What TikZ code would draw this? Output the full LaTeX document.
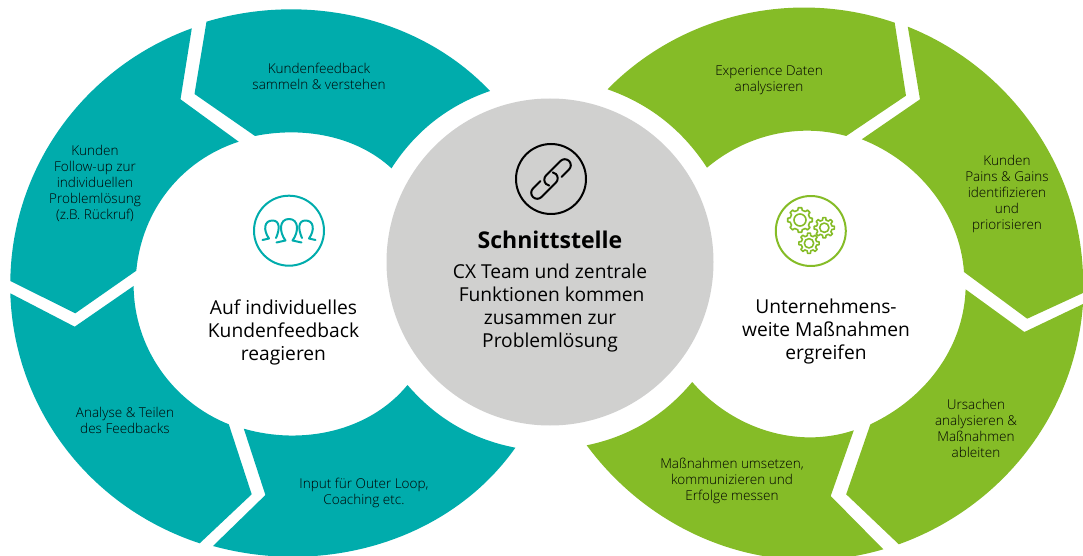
\documentclass[tikz,border=0pt]{standalone}
\usepackage{fontspec}
\setmainfont{Open Sans}
\newfontfamily\lightfont{Open Sans Light}
\definecolor{ringteal}{HTML}{00ACAC}
\definecolor{ringgreen}{HTML}{85BC27}
\definecolor{hubgrey}{HTML}{D0D0CF}
\tikzset{every picture/.style={line width=0.75pt}}
\tikzset{
  smalltext/.style={inner sep=0.75pt,align=center,font=\lightfont\fontsize{10.15}{12}\selectfont},
  bigtext/.style={inner sep=0.75pt,align=center,font=\fontsize{14.4}{17.25}\selectfont},
  iconline/.style={line width=1.5pt,line cap=round,line join=round},
  gearline/.style={line width=1.2pt,line join=round,draw=ringgreen}
}
\newcommand{\gearcog}[3]{%
  \draw[gearline] (#1,#2) circle (#3*0.6);
  \begin{scope}[shift={(#1,#2)}]
  \draw[gearline] (-13:#3) \foreach \a in {0,45,...,315} { -- (\a-13:#3) -- (\a-8:#3+2.4) -- (\a+8:#3+2.4) -- (\a+13:#3) } -- cycle ;
  \end{scope}
}

\begin{document}
\begin{tikzpicture}[x=0.75pt,y=0.75pt,yscale=-1]
\useasboundingbox (0,0) rectangle (1083,556);
\clip (0,0) rectangle (1083,556);

%Shape: Segment top left ring
\fill [ringteal] (206.5,21.7) .. controls (305,-8) and (419,16) .. (490,91) .. controls (448.3,105.3) and (415.4,131) .. (391.5,168.3) .. controls (355.7,135.4) and (302.6,126.4) .. (255,136) -- (194.5,94) -- cycle ;
%Shape: Segment left upper
\fill [ringteal] (10.3,281) .. controls (11.7,167) and (84.6,67.3) .. (191.8,28.3) -- (180.5,99.3) -- (238.7,141.7) .. controls (181.1,160.4) and (141.9,210.3) .. (136.3,270.7) -- (75.3,313.3) -- cycle ;
%Shape: Segment left lower
\fill [ringteal] (10.3,293.3) -- (74.7,326.7) -- (133.6,286) .. controls (134.2,347.2) and (172,401.5) .. (228.8,424.3) -- (251.7,494.3) -- (199.7,543.3) .. controls (90.1,507.3) and (13.9,408.7) .. (10.3,293.3) -- cycle ;
%Shape: Segment bottom left ring
\fill [ringteal] (243.8,428.7) -- (265.4,495) -- (213,546) .. controls (324,576.6) and (448.9,541.5) .. (515.4,447.7) .. controls (472.2,439.4) and (436.3,418.5) .. (407.5,385) .. controls (369,431.8) and (302,445.4) .. (243.8,428.7) -- cycle ;

%Shape: Segment top right ring
\fill [ringgreen] (607.5,89.3) .. controls (681.8,13.7) and (794.4,-11.9) .. (894.7,22.7) -- (906,95.7) -- (846.2,136) .. controls (797.8,122.5) and (745.4,135.3) .. (707,167.7) .. controls (682.7,130.2) and (649.6,104) .. (607.5,89.3) -- cycle ;
%Shape: Segment right upper
\fill [ringgreen] (907.8,26.7) .. controls (1015.5,69.7) and (1087,177) .. (1083,293) -- (1027.2,318.7) -- (964,272) .. controls (959.7,212.2) and (917.6,161.3) .. (861.8,139.3) -- (920,99.3) -- cycle ;
%Shape: Segment right lower
\fill [ringgreen] (1083,304) .. controls (1075,414) and (1002.3,507) .. (898.8,544.3) -- (846.2,494.3) -- (870.4,424.3) .. controls (924.4,399) and (963.5,349) .. (965.6,289.3) -- (1024.4,332) -- cycle ;
%Shape: Segment bottom right ring
\fill [ringgreen] (586.7,445.3) .. controls (655.4,538.2) and (772.5,581.9) .. (883.3,549.3) -- (830.7,496) -- (853.8,430.3) .. controls (795.9,449.6) and (732.2,428) .. (692.2,382) .. controls (664.3,415.5) and (629.2,436.6) .. (586.7,445.3) -- cycle ;

%Shape: Circle hub
\fill [hubgrey] (550,262) circle (163.5) ;

%Shape: Circle people icon
\draw [ringteal,iconline] (289,230.7) circle (35) ;
\draw [ringteal,iconline] (276.5,242.5) -- (285.5,240.5) .. controls (279,232) and (279,219) .. (289,219) .. controls (299,219) and (299,232) .. (292.5,240.5) -- (301.5,242.5) ;
\draw [ringteal,iconline] (262.5,240) -- (269,238.5) .. controls (263,230) and (264,220.5) .. (272.5,220.5) .. controls (280,220.5) and (280,229) .. (276,238) ;
\draw [ringteal,iconline] (315.5,240) -- (309,238.5) .. controls (315,230) and (314,220.5) .. (305.5,220.5) .. controls (298,220.5) and (298,229) .. (302,238) ;

%Shape: Circle link icon
\draw [black,iconline] (551,179) circle (35) ;
\begin{scope}[shift={(551,179)},rotate=-45]
\draw [black,iconline] (9,6) -- (19.5,6) arc[start angle=90,end angle=-90,radius=6] -- (-1,-6) arc[start angle=-90,end angle=-215,radius=6] ;
\end{scope}
\begin{scope}[shift={(551,179)},rotate=135]
\draw [black,iconline] (9,6) -- (19.5,6) arc[start angle=90,end angle=-90,radius=6] -- (-1,-6) arc[start angle=-90,end angle=-215,radius=6] ;
\end{scope}

%Shape: Circle gear icon
\draw [ringgreen,iconline] (810.8,231) circle (35) ;
\gearcog{800}{220}{10}
\gearcog{824.3}{227.7}{7.8}
\gearcog{809}{243.3}{7.8}

% Text Node
\draw (319,76) node (collect) [smalltext] {Kundenfeedback\\sammeln \& verstehen};
% Text Node
\draw (95,183) node (followup) [smalltext] {Kunden\\Follow-up zur\\individuellen\\Problemlösung\\(z.B. Rückruf)};
% Text Node
\draw (125,420) node (share) [smalltext] {Analyse \& Teilen\\des Feedbacks};
% Text Node
\draw (364,493) node (input) [smalltext] {Input für Outer Loop,\\Coaching etc.};
% Text Node
\draw (283.5,332) node (react) [bigtext] {Auf individuelles\\Kundenfeedback\\reagieren};
% Text Node
\draw (550,240) node (hubtitle) [bigtext,font=\bfseries\fontsize{17.3}{20}\selectfont] {Schnittstelle};
% Text Node
\draw (550,308) node (hubtext) [bigtext] {CX Team und zentrale\\\,Funktionen kommen\\zusammen zur\\Problemlösung};
% Text Node
\draw (769,80) node (experience) [smalltext] {Experience Daten\\analysieren};
% Text Node
\draw (1007,194) node (pains) [smalltext] {Kunden\\Pains \& Gains\\identifizieren\\und\\priorisieren};
% Text Node
\draw (976,428) node (causes) [smalltext] {Ursachen\\analysieren \&\\Maßnahmen\\ableiten};
% Text Node
\draw (732,481) node (measures) [smalltext] {Maßnahmen umsetzen,\\kommunizieren und\\Erfolge messen};
% Text Node
\draw (826,332) node (company) [bigtext] {Unternehmens-\\weite Maßnahmen\\ergreifen};

\end{tikzpicture}
\end{document}
